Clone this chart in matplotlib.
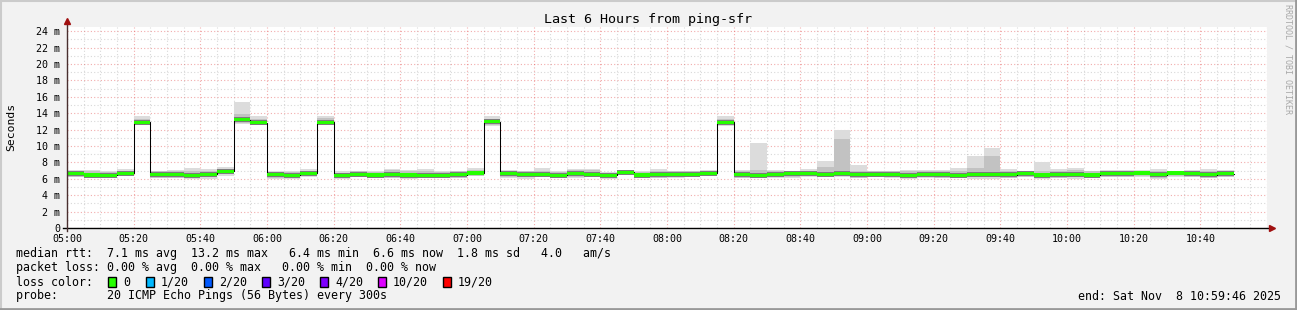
import matplotlib
matplotlib.use("Agg")
import matplotlib.pyplot as plt
from matplotlib.patches import Rectangle
from matplotlib.lines import Line2D

# one value per 5 minute step, starting at 05:00 (ms)
median = [6.6, 6.45, 6.4, 6.65, 12.9, 6.5, 6.5, 6.4, 6.55, 6.9,
          13.2, 12.85, 6.5, 6.4, 6.65, 12.9, 6.4, 6.55, 6.45, 6.5,
          6.45, 6.4, 6.4, 6.5, 6.7, 12.95, 6.6, 6.55, 6.55, 6.4,
          6.6, 6.55, 6.4, 6.8, 6.45, 6.5, 6.55, 6.55, 6.65, 12.9,
          6.5, 6.4, 6.55, 6.6, 6.65, 6.55, 6.65, 6.5, 6.55, 6.55,
          6.4, 6.55, 6.5, 6.4, 6.55, 6.55, 6.5, 6.6, 6.45, 6.5,
          6.55, 6.45, 6.6, 6.6, 6.7, 6.5, 6.7, 6.6, 6.5, 6.6]
smoke_hi = [7.1, 7.1, 7.0, 7.2, 13.6, 7.0, 7.1, 7.3, 7.2, 7.4,
            15.4, 13.7, 6.9, 7.0, 7.2, 13.7, 6.9, 7.0, 7.0, 7.2,
            7.1, 7.2, 6.9, 7.0, 7.3, 13.6, 7.1, 7.0, 7.3, 7.0,
            7.2, 7.2, 6.8, 7.1, 7.0, 7.2, 7.0, 7.0, 7.1, 13.6,
            7.1, 10.4, 7.1, 7.0, 7.2, 8.2, 11.9, 7.7, 6.9, 7.0,
            7.1, 7.1, 7.1, 7.3, 8.8, 9.7, 7.2, 6.9, 8.0, 7.2,
            7.3, 7.0, 7.1, 7.1, 7.1, 7.2, 7.0, 7.1, 7.2, 7.1]
smoke_hi2 = [6.9, 6.9, 6.8, 7.0, 13.3, 6.9, 6.9, 7.0, 7.0, 7.2,
             13.9, 13.3, 6.8, 6.8, 7.0, 13.4, 6.7, 6.9, 6.8, 7.1,
             6.9, 7.0, 6.8, 6.9, 7.1, 13.3, 6.9, 6.9, 7.0, 6.8,
             7.1, 7.1, 6.7, 7.0, 6.8, 7.0, 6.9, 6.9, 6.9, 13.3,
             6.9, 7.1, 6.9, 6.9, 7.0, 7.4, 10.9, 7.0, 6.9, 6.9,
             7.0, 7.0, 6.9, 7.0, 7.3, 8.8, 7.0, 6.8, 7.0, 7.0,
             7.1, 6.9, 6.9, 7.0, 7.0, 7.0, 6.9, 7.0, 7.0, 6.9]
smoke_lo = [6.2, 6.2, 6.1, 6.3, 12.5, 6.2, 6.2, 6.0, 6.0, 6.3,
            12.7, 12.5, 6.0, 6.0, 6.2, 12.5, 6.0, 6.2, 6.1, 6.2,
            6.0, 6.1, 6.1, 6.2, 6.3, 12.4, 6.1, 6.0, 6.2, 6.1,
            6.1, 6.2, 6.0, 6.4, 6.1, 6.2, 6.1, 6.2, 6.3, 12.4,
            6.1, 6.1, 6.1, 6.1, 6.2, 6.2, 6.2, 6.1, 6.2, 6.1,
            6.0, 6.1, 6.1, 6.2, 6.0, 6.0, 6.2, 6.3, 6.0, 6.2,
            6.0, 6.1, 6.2, 6.2, 6.2, 6.0, 6.2, 6.2, 6.2, 6.3]

x_labels = ["05:00", "05:20", "05:40", "06:00", "06:20", "06:40", "07:00",
            "07:20", "07:40", "08:00", "08:20", "08:40", "09:00", "09:20",
            "09:40", "10:00", "10:20", "10:40"]
y_ticks = [0, 2, 4, 6, 8, 10, 12, 14, 16, 18, 20, 22, 24]

loss_labels = ["0", "1/20", "2/20", "3/20", "4/20", "10/20", "19/20"]
loss_colors = ["#26ff00", "#00b8ff", "#0059ff", "#5e00ff", "#7e00ff",
               "#dd00ff", "#ff0000"]
loss_box_x = [108, 146, 204, 262, 320, 378, 443]

W, H = 1297, 310
MONO = "DejaVu Sans Mono"

fig = plt.figure(figsize=(W / 100, H / 100), dpi=100, facecolor="#f2f2f2")
ax = fig.add_axes([67 / W, (H - 228) / H, 1200 / W, 201 / H])
ax.set_facecolor("white")

step = 5
xs = [i * step for i in range(len(median))]

# grid: 5 min / 1 ms minor, 20 min / 2 ms major
for m in range(0, 361, 5):
    if m % 20 == 0:
        ax.axvline(m, color="#de3030", alpha=0.4, lw=0.8, ls=(0, (1, 2)), zorder=0)
    else:
        ax.axvline(m, color="#8f8f8f", alpha=0.35, lw=0.8, ls=(0, (1, 2)), zorder=0)
for v in range(0, 25):
    if v % 2 == 0:
        ax.axhline(v, color="#de3030", alpha=0.4, lw=0.8, ls=(0, (1, 2)), zorder=0)
    else:
        ax.axhline(v, color="#8f8f8f", alpha=0.35, lw=0.8, ls=(0, (1, 2)), zorder=0)

# smoke
ax.bar(xs, [h - l for h, l in zip(smoke_hi, smoke_lo)], bottom=smoke_lo,
       width=step, align="edge", color="#dcdcdc", lw=0, zorder=2)
mid_lo = [m - 0.35 for m in median]
ax.bar(xs, [h - l for h, l in zip(smoke_hi2, mid_lo)], bottom=mid_lo,
       width=step, align="edge", color="#c2c2c2", lw=0, zorder=3)
ax.bar(xs, 0.6, bottom=[m - 0.3 for m in median], width=step, align="edge",
       color="#7c7c7c", lw=0, zorder=4)

# median
ax.step(xs + [xs[-1] + step], median + [median[-1]], where="post",
        color="black", lw=0.75, zorder=5)
ax.bar(xs, 0.4, bottom=[m - 0.2 for m in median], width=step, align="edge",
       color=loss_colors[0], lw=0, zorder=6)

ax.set_xlim(0, 360)
ax.set_ylim(0, 24.5)
for s in ax.spines.values():
    s.set_visible(False)

ax.set_xticks(range(0, 341, 20))
ax.set_xticklabels(x_labels, family=MONO, fontsize=7.2)
ax.set_yticks(y_ticks)
ax.set_yticklabels([f"{v} m" if v else "0" for v in y_ticks], family=MONO, fontsize=7.2)
ax.tick_params(length=0, pad=4)
ax.tick_params(axis="y", pad=5)

# axes with arrows
ax.add_line(Line2D([-0.003, 1.004], [0, 0], transform=ax.transAxes,
                   color="black", lw=1, clip_on=False, zorder=7))
ax.add_line(Line2D([0, 0], [-0.015, 1.03], transform=ax.transAxes,
                   color="#4a3030", lw=1, clip_on=False, zorder=7))
ax.plot([1.004], [0], marker=">", ms=4, color="#a01010", transform=ax.transAxes,
        clip_on=False, zorder=8)
ax.plot([0], [1.03], marker="^", ms=4, color="#a01010", transform=ax.transAxes,
        clip_on=False, zorder=8)

# texts
fig.text(648 / W, 1 - 19 / H, "Last 6 Hours from ping-sfr", family=MONO,
         fontsize=9.6, ha="center", va="center")
fig.text(11 / W, 1 - 127 / H, "Seconds", family=MONO, fontsize=8.2,
         rotation=90, ha="center", va="center")
fig.text(1288 / W, 1 - 4 / H, "RRDTOOL / TOBI OETIKER", family=MONO,
         fontsize=6, color="#a8a8a8", rotation=270, ha="center", va="top")

rows = [254, 268, 282, 296]
legend_lines = [
    "median rtt:  7.1 ms avg  13.2 ms max   6.4 ms min  6.6 ms now  1.8 ms sd   4.0   am/s",
    "packet loss: 0.00 % avg  0.00 % max   0.00 % min  0.00 % now",
    "loss color:",
    "probe:       20 ICMP Echo Pings (56 Bytes) every 300s",
]
for y, t in zip(rows, legend_lines):
    fig.text(16 / W, 1 - y / H, t, family=MONO, fontsize=8.4, ha="left", va="center")

for bx, lab, col in zip(loss_box_x, loss_labels, loss_colors):
    fig.patches.append(Rectangle((bx / W, 1 - 287 / H), 8 / W, 10 / H,
                                 transform=fig.transFigure, facecolor=col,
                                 edgecolor="black", lw=1))
    fig.text((bx + 15) / W, 1 - 282 / H, lab, family=MONO, fontsize=8.4,
             ha="left", va="center")

fig.text(1281 / W, 1 - 296 / H, "end: Sat Nov  8 10:59:46 2025", family=MONO,
         fontsize=8.4, ha="right", va="center")

# 3d frame
fig.add_artist(Line2D([0, 1], [1 - 0.5 / H, 1 - 0.5 / H], transform=fig.transFigure,
                      color="#cbcbcb", lw=1.5))
fig.add_artist(Line2D([0.5 / W, 0.5 / W], [0, 1], transform=fig.transFigure,
                      color="#cbcbcb", lw=1.5))
fig.add_artist(Line2D([0, 1], [1 / H, 1 / H], transform=fig.transFigure,
                      color="#999999", lw=2))
fig.add_artist(Line2D([1 - 1 / W, 1 - 1 / W], [0, 1], transform=fig.transFigure,
                      color="#999999", lw=2))

fig.savefig("out.png", dpi=100, facecolor=fig.get_facecolor())
